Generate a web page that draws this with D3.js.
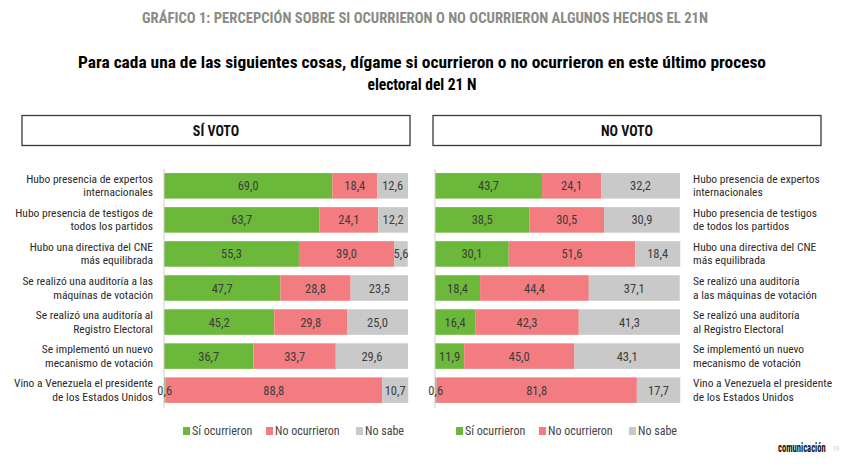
<!DOCTYPE html>
<html><head><meta charset="utf-8">
<script src="https://cdn.jsdelivr.net/npm/d3@7"></script>
<style>
body{margin:0;background:#fff;}
svg{display:block;font-family:"Roboto Condensed","Liberation Sans Narrow",Roboto,"Liberation Sans",sans-serif;}
</style></head>
<body><svg id="c" width="844" height="475"></svg>
<script>
const titleText = "GRÁFICO 1: PERCEPCIÓN SOBRE SI OCURRIERON O NO OCURRIERON ALGUNOS HECHOS EL 21N";
const subtitleLines = ["Para cada una de las siguientes cosas, dígame si ocurrieron o no ocurrieron en este último proceso", "electoral del 21 N"];
const panelTitles = ["SÍ VOTO", "NO VOTO"];
const seriesNames = ["Sí ocurrieron", "No ocurrieron", "No sabe"];
const seriesColors = ["#6cb83a", "#f27c7f", "#c9c9c9"];

const labelsLeft = [
  ["Hubo presencia de expertos","internacionales"],
  ["Hubo presencia de testigos de","todos los partidos"],
  ["Hubo una directiva del CNE","más equilibrada"],
  ["Se realizó una auditoría a las","máquinas de votación"],
  ["Se realizó una auditoría al","Registro Electoral"],
  ["Se implementó un nuevo","mecanismo de votación"],
  ["Vino a Venezuela el presidente","de los Estados Unidos"]
];
const labelsRight = [
  ["Hubo presencia de expertos","internacionales"],
  ["Hubo presencia de testigos","de todos los partidos"],
  ["Hubo una directiva del CNE","más equilibrada"],
  ["Se realizó una auditoría","a las máquinas de votación"],
  ["Se realizó una auditoría","al Registro Electoral"],
  ["Se implementó un nuevo","mecanismo de votación"],
  ["Vino a Venezuela el presidente","de los Estados Unidos"]
];

const siVotoSi = [69.0, 63.7, 55.3, 47.7, 45.2, 36.7, 0.6];
const siVotoNo = [18.4, 24.1, 39.0, 28.8, 29.8, 33.7, 88.8];
const siVotoNs = [12.6, 12.2, 5.6, 23.5, 25.0, 29.6, 10.7];
const noVotoSi = [43.7, 38.5, 30.1, 18.4, 16.4, 11.9, 0.6];
const noVotoNo = [24.1, 30.5, 51.6, 44.4, 42.3, 45.0, 81.8];
const noVotoNs = [32.2, 30.9, 18.4, 37.1, 41.3, 43.1, 17.7];

const svg = d3.select("#c");
const fmt = v => d3.format(".1f")(v).replace(".", ",");

svg.append("text").attr("x", 425).attr("y", 23).attr("text-anchor", "middle")
  .attr("font-size", 14).attr("font-weight", "bold").attr("fill", "#8b8b85")
  .attr("textLength", 566).attr("lengthAdjust", "spacingAndGlyphs").text(titleText);
svg.append("text").attr("x", 422).attr("y", 68).attr("text-anchor", "middle")
  .attr("font-size", 16).attr("font-weight", "bold").attr("fill", "#000")
  .attr("textLength", 688).attr("lengthAdjust", "spacingAndGlyphs").text(subtitleLines[0]);
svg.append("text").attr("x", 422).attr("y", 90).attr("text-anchor", "middle")
  .attr("font-size", 16).attr("font-weight", "bold").attr("fill", "#000")
  .attr("textLength", 109).attr("lengthAdjust", "spacingAndGlyphs").text(subtitleLines[1]);

const panels = [
  {title: panelTitles[0], box: [22, 410], x0: 164, x1: 408, labels: labelsLeft, side: "left",
   series: [siVotoSi, siVotoNo, siVotoNs], legendX: 183},
  {title: panelTitles[1], box: [433, 821], x0: 435, x1: 680, labels: labelsRight, side: "right",
   series: [noVotoSi, noVotoNo, noVotoNs], legendX: 456}
];

const idx = d3.range(7);
const y = d3.scaleBand().domain(idx).range([169, 407]).paddingInner(0.25).paddingOuter(0.12);

panels.forEach(p => {
  const g = svg.append("g");
  g.append("rect").attr("x", p.box[0]).attr("y", 115.5).attr("width", p.box[1] - p.box[0]).attr("height", 30)
    .attr("fill", "#fff").attr("stroke", "#3a3a3a").attr("stroke-width", 1.3);
  g.append("text").attr("x", (p.box[0] + p.box[1]) / 2).attr("y", 135.5).attr("text-anchor", "middle")
    .attr("font-size", 14).attr("font-weight", "bold").attr("fill", "#111").text(p.title);

  const x = d3.scaleLinear().domain([0, 100]).range([p.x0, p.x1]);
  const rows = idx.map(i => {
    let acc = 0;
    return p.series.map((s, k) => { const r = {i, k, v: s[i], a: acc}; acc += s[i]; return r; });
  }).flat();

  g.selectAll("rect.bar").data(rows).join("rect").attr("class", "bar")
    .attr("x", d => x(d.a)).attr("width", d => Math.max(0, Math.min(x(d.a + d.v), x(100) + 0.5) - x(d.a)))
    .attr("y", d => y(d.i)).attr("height", y.bandwidth())
    .attr("fill", d => seriesColors[d.k]);

  g.append("line").attr("x1", p.x0).attr("x2", p.x0).attr("y1", 169).attr("y2", 408)
    .attr("stroke", "#d0d0d0").attr("stroke-width", 1);

  g.selectAll("text.val").data(rows).join("text").attr("class", "val")
    .attr("x", d => x(d.a + d.v / 2))
    .attr("y", d => y(d.i) + y.bandwidth() / 2 + 4.5)
    .attr("text-anchor", "middle").attr("font-size", 12.5).attr("fill", "#3d3d3d")
    .text(d => fmt(d.v));

  const lx = p.side === "left" ? 153 : 693;
  const anchor = p.side === "left" ? "end" : "start";
  idx.forEach(i => {
    const cy = y(i) + y.bandwidth() / 2;
    const t = g.append("text").attr("text-anchor", anchor).attr("font-size", 11.5).attr("fill", "#2a2a2a");
    p.labels[i].forEach((line, j) => {
      t.append("tspan").attr("x", lx).attr("y", cy + (j === 0 ? -3 : 10.5)).text(line);
    });
  });

  const legOffsets = [0, 83, 173];
  seriesNames.forEach((n, k) => {
    const lxk = p.legendX + legOffsets[k];
    g.append("rect").attr("x", lxk).attr("y", 427).attr("width", 7).attr("height", 8).attr("fill", seriesColors[k]);
    g.append("text").attr("x", lxk + 9).attr("y", 435).attr("font-size", 12).attr("fill", "#444").text(n);
  });
});

// logo (condensed via horizontal scale)
svg.append("text").attr("transform", "translate(778,452) scale(0.66,1)")
  .attr("font-size", 13).attr("font-weight", "bold").attr("fill", "#111").text("comunicación");
svg.append("text").attr("transform", "translate(833,451) scale(0.75,1)")
  .attr("font-size", 8).attr("fill", "#c8c8c8").text("19");
</script></body></html>
